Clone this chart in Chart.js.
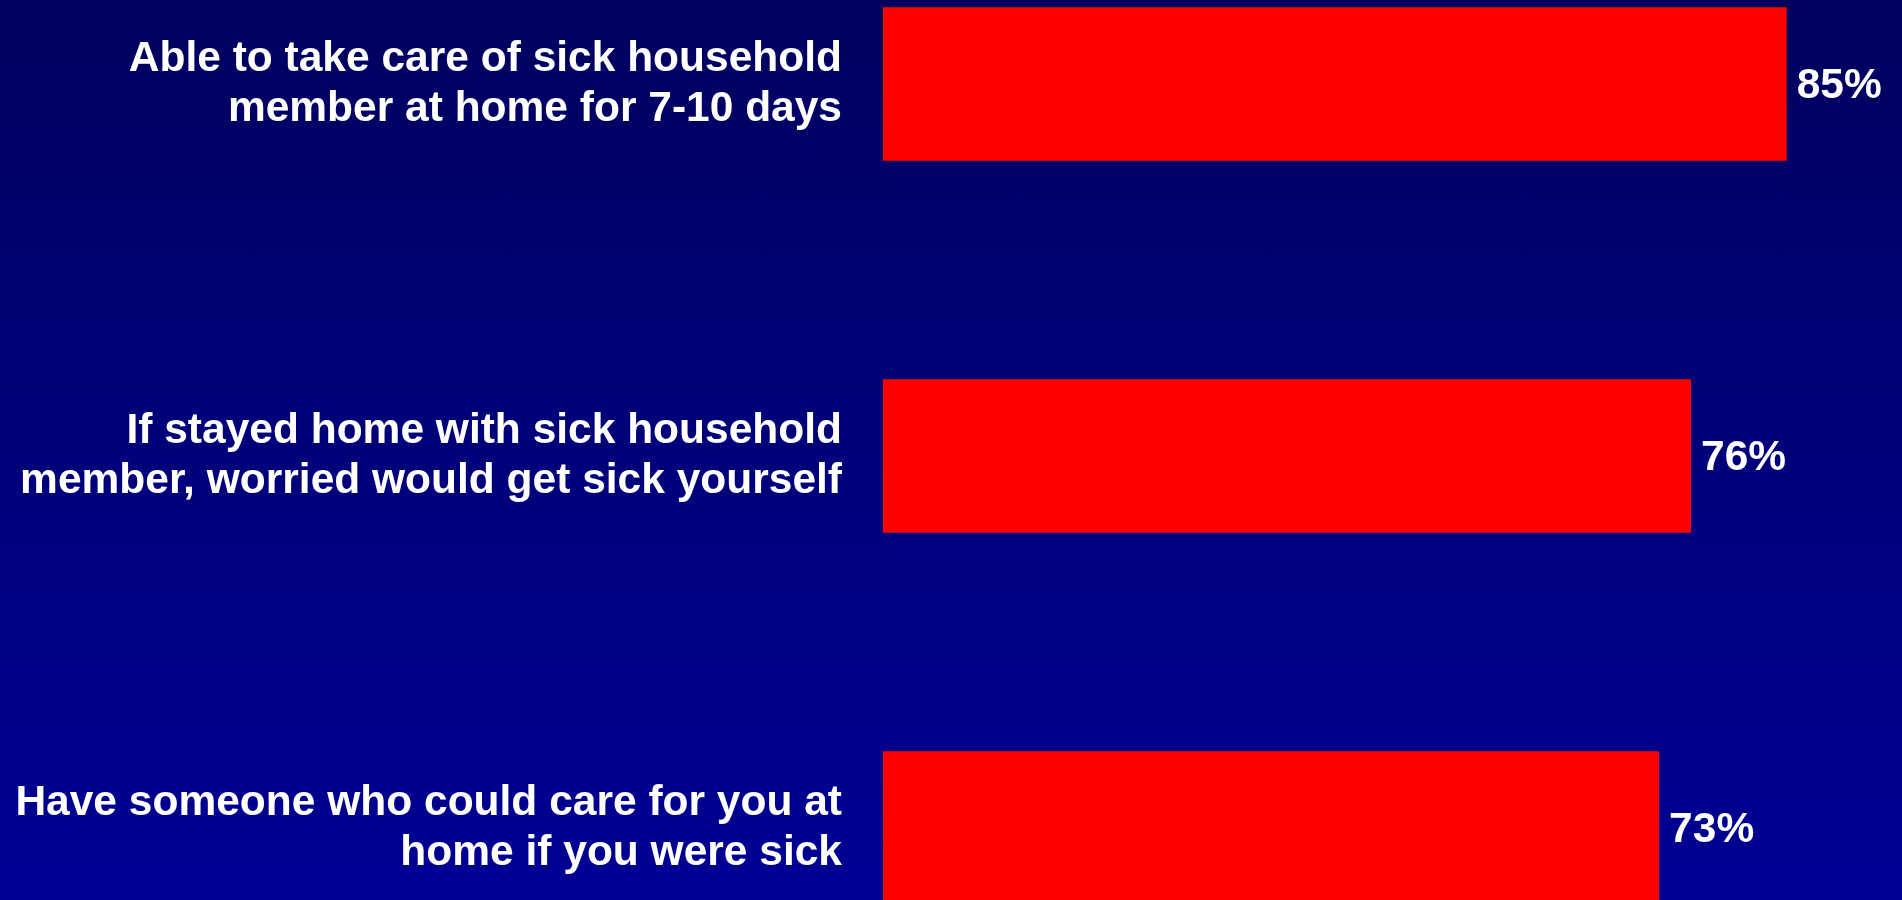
<!DOCTYPE html>
<html>
<head>
<meta charset="utf-8">
<title>Home care</title>
<script src="https://cdn.jsdelivr.net/npm/chart.js@4.4.1/dist/chart.umd.min.js"></script>
<style>
    html, body {
        margin: 0;
        padding: 0;
        overflow: hidden;
    }
    #page {
        position: relative;
        width: 1902px;
        height: 900px;
        overflow: hidden;
        background: linear-gradient(to bottom, #00005e 0%, #00007a 50%, #000094 100%);
    }
    #chartCanvas {
        position: absolute;
        left: 0;
        top: -102px;
        width: 1902px;
        height: 1116px;
    }
</style>
</head>
<body>
<div id="page">
    <canvas id="chartCanvas" width="1902" height="1116"></canvas>
</div>
<script>
// chart data
var categories = [
    ["Able to take care of sick household", "member at home for 7-10 days"],
    ["If stayed home with sick household", "member, worried would get sick yourself"],
    ["Have someone who could care for you at", "home if you were sick"]
];
var values = [85, 76, 73];
var valueLabels = ["85%", "76%", "73%"];

var fontFamily = "'Liberation Sans', Arial, Helvetica, sans-serif";

// draws the percentage next to each bar
var valueLabelPlugin = {
    id: 'valueLabels',
    afterDatasetsDraw: function (chart) {
        var ctx = chart.ctx;
        var meta = chart.getDatasetMeta(0);
        ctx.save();
        ctx.fillStyle = "#ffffff";
        ctx.font = "bold 42.5px " + fontFamily;
        ctx.textAlign = "left";
        ctx.textBaseline = "middle";
        for (var i = 0; i < meta.data.length; i++) {
            var bar = meta.data[i];
            ctx.fillText(valueLabels[i], bar.x + 10, bar.y + 2);
        }
        ctx.restore();
    }
};

var ctx = document.getElementById("chartCanvas").getContext("2d");
var chart = new Chart(ctx, {
    type: 'bar',
    data: {
        labels: categories,
        datasets: [{
            data: values,
            backgroundColor: "#ff0000",
            borderWidth: 0,
            categoryPercentage: 1.0,
            barPercentage: 0.412
        }]
    },
    options: {
        indexAxis: 'y',
        responsive: false,
        maintainAspectRatio: false,
        animation: false,
        layout: {
            padding: { left: 0, right: 9, top: 0, bottom: 0 }
        },
        plugins: {
            legend: { display: false },
            tooltip: { enabled: false }
        },
        scales: {
            x: {
                display: false,
                min: 0,
                max: 95
            },
            y: {
                offset: true,
                grid: { display: false, drawTicks: false },
                border: { display: false },
                ticks: {
                    color: "#ffffff",
                    padding: 41,
                    font: { family: fontFamily, size: 42.5, weight: 'bold', lineHeight: 1.18 }
                },
                afterFit: function (scale) {
                    scale.width = 883;
                    // labels may spill past the plot, do not shrink it for them
                    scale.paddingTop = 0;
                    scale.paddingBottom = 0;
                }
            }
        }
    },
    plugins: [valueLabelPlugin]
});
</script>
</body>
</html>
